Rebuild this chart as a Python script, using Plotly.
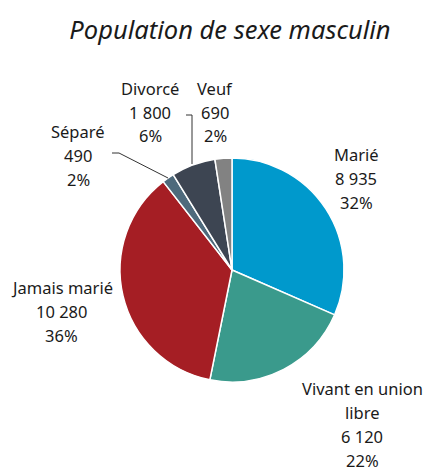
import plotly.graph_objects as go

# Données
labels = ["Marié", "Vivant en union libre", "Jamais marié", "Séparé", "Divorcé", "Veuf"]
values = [8935, 6120, 10280, 490, 1800, 690]
colors = ["#0099cc", "#3a9a8c", "#a51e24", "#4e6a7c", "#3d4552", "#828282"]

# lignes de texte pour chaque étiquette (libellé coupé comme dans l'original)
label_lines = [["Marié"], ["Vivant en union", "libre"], ["Jamais marié"],
               ["Séparé"], ["Divorcé"], ["Veuf"]]

W, H = 423, 473
M_L, M_R, M_T, M_B = 120, 79, 158, 91
PW, PH = W - M_L - M_R, H - M_T - M_B

FONT = "Noto Sans, Open Sans, sans-serif"
TEXT_COLOR = "#1a1a1a"

# position (px) de la première ligne de chaque étiquette
label_pos = [(356, 154), (362, 388), (62, 287), (78, 131), (150, 88), (215, 88)]
LINE_STEP = 24


def px_to_paper(x, y):
    return (x - M_L) / PW, (H - M_B - y) / PH


def fmt(n):
    return f"{n:,}".replace(",", " ")


total = sum(values)

fig = go.Figure(
    go.Pie(
        labels=labels,
        values=values,
        sort=False,
        direction="clockwise",
        rotation=0,
        marker=dict(colors=colors, line=dict(color="white", width=1.5)),
        textinfo="none",
        hoverinfo="label+value+percent",
        showlegend=False,
    )
)

annotations = []
for lines, v, (x0, y0) in zip(label_lines, values, label_pos):
    pct = round(v / total * 100)
    all_lines = lines + [fmt(v), f"{pct}%"]
    for i, t in enumerate(all_lines):
        xp, yp = px_to_paper(x0, y0 + i * LINE_STEP)
        annotations.append(dict(
            text=t, x=xp, y=yp, xref="paper", yref="paper",
            showarrow=False, xanchor="center", yanchor="middle",
            font=dict(family=FONT, size=16.5, color=TEXT_COLOR),
        ))

# lignes de rappel (Séparé, Divorcé)
shapes = []
for pts in ([(112, 153), (119, 153), (168, 178)], [(186, 115), (192, 115), (192, 164)]):
    for (xa, ya), (xb, yb) in zip(pts[:-1], pts[1:]):
        x1, y1 = px_to_paper(xa, ya)
        x2, y2 = px_to_paper(xb, yb)
        shapes.append(dict(type="line", xref="paper", yref="paper",
                           x0=x1, y0=y1, x1=x2, y1=y2,
                           line=dict(color="#333333", width=1)))

fig.update_layout(
    width=W, height=H,
    margin=dict(l=M_L, r=M_R, t=M_T, b=M_B),
    paper_bgcolor="white",
    plot_bgcolor="white",
    title=dict(
        text="<i>Population de sexe masculin</i>",
        x=230 / W, xanchor="center", y=1 - 30 / H, yanchor="middle",
        font=dict(family=FONT, size=25.5, color=TEXT_COLOR),
    ),
    annotations=annotations,
    shapes=shapes,
)

# enlever la marge du body pour que la figure commence en (0, 0)
fig.write_html(
    "out.html",
    config={"displayModeBar": False},
    post_script="document.body.style.margin='0';",
)
